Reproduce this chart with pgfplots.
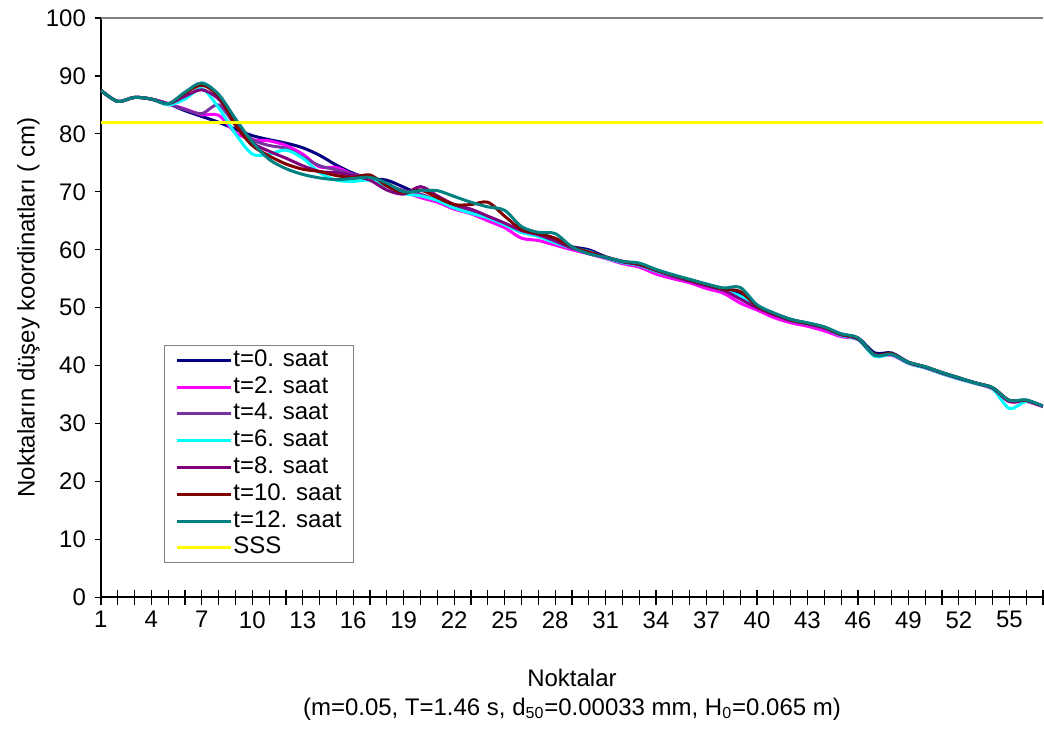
\documentclass[border=0pt]{standalone}
\usepackage{pgfplots}
\usepackage{pgfplotstable}
\pgfplotsset{compat=1.18}
\usepackage{fontspec}
\setmainfont{Liberation Sans}

\definecolor{cnavy}{RGB}{0,0,128}
\definecolor{cpink}{RGB}{255,0,255}
\definecolor{cviol}{RGB}{120,50,160}
\definecolor{ccyan}{RGB}{0,255,255}
\definecolor{cpurp}{RGB}{128,0,128}
\definecolor{cmaroon}{RGB}{128,0,0}
\definecolor{cteal}{RGB}{0,128,128}
\definecolor{cyel}{RGB}{255,255,0}

% dusey koordinatlar (cm), noktalar 1..57
\pgfplotstableread{
x  t0   t2   t4   t6   t8   t10  t12
1  87.5 87.5 87.5 87.5 87.5 87.5 87.5
2  85.6 85.6 85.6 85.6 85.6 85.6 85.6
3  86.3 86.3 86.3 86.3 86.3 86.3 86.3
4  86.0 86.0 86.0 86.0 86.0 86.0 86.0
5  85.2 85.2 85.2 85.0 85.2 85.2 85.2
6  84.0 84.3 84.2 86.0 86.5 87.0 87.2
7  83.0 83.3 83.5 87.8 87.6 88.4 88.8
8  82.0 83.2 85.0 84.5 86.0 86.5 86.8
9  80.8 80.2 81.5 80.0 82.0 81.5 82.6
10 79.7 79.0 79.0 76.5 78.5 78.0 78.6
11 79.0 78.8 78.0 76.5 77.0 76.2 75.6
12 78.4 78.0 77.5 77.2 75.8 74.8 74.0
13 77.6 76.5 76.0 75.8 74.5 73.9 73.0
14 76.3 74.3 74.5 73.3 73.5 73.5 72.4
15 74.6 74.2 73.8 72.0 73.3 72.8 72.1
16 73.2 73.0 73.0 71.8 72.8 72.5 72.3
17 72.3 72.5 72.3 72.0 72.0 72.9 72.5
18 72.0 71.0 71.2 71.0 70.3 71.0 71.5
19 70.8 70.0 70.2 69.7 69.6 69.8 70.0
20 69.5 69.0 69.6 69.3 70.9 70.3 70.2
21 68.5 68.2 68.5 68.5 69.3 69.0 70.2
22 67.5 67.0 67.5 67.2 67.8 67.8 69.2
23 66.5 66.2 66.5 66.3 67.0 67.8 68.2
24 65.5 65.0 65.5 65.5 65.8 68.2 67.4
25 64.3 63.8 64.5 64.3 64.6 65.8 66.8
26 63.3 62.0 63.0 63.0 63.3 63.5 64.0
27 62.5 61.6 62.5 62.3 62.6 62.8 63.0
28 61.3 60.8 61.5 61.2 61.5 62.0 62.8
29 60.5 60.0 60.3 60.3 60.3 60.5 60.5
30 60.0 59.3 59.6 59.7 59.6 59.6 59.3
31 58.8 58.5 58.6 58.6 58.7 58.7 58.7
32 58.0 57.6 57.8 57.8 57.9 58.0 58.0
33 57.5 57.0 57.3 57.3 57.4 57.5 57.7
34 56.5 55.8 56.3 56.3 56.4 56.5 56.6
35 55.6 55.0 55.4 55.5 55.5 55.6 55.7
36 54.8 54.3 54.6 54.7 54.6 54.8 54.9
37 54.0 53.3 53.8 53.9 53.8 54.0 54.1
38 53.3 52.5 53.0 53.0 53.0 53.2 53.4
39 52.3 50.8 52.0 52.0 51.5 52.8 53.5
40 50.3 49.6 50.2 50.2 50.0 50.3 50.5
41 49.0 48.3 48.8 48.9 48.8 49.0 49.1
42 48.0 47.4 47.8 47.8 47.8 47.9 48.0
43 47.3 46.8 47.2 47.2 47.2 47.3 47.4
44 46.6 46.0 46.5 46.5 46.5 46.6 46.7
45 45.4 45.0 45.3 45.2 45.3 45.4 45.5
46 44.8 44.5 44.6 44.5 44.6 44.7 44.8
47 42.2 41.8 41.8 41.6 41.8 41.9 41.8
48 42.2 41.8 42.0 41.9 42.0 42.1 42.0
49 40.6 40.4 40.5 40.4 40.5 40.6 40.6
50 39.8 39.6 39.7 39.6 39.7 39.8 39.8
51 38.8 38.6 38.7 38.6 38.7 38.8 38.8
52 37.9 37.7 37.8 37.7 37.8 37.9 37.9
53 37.0 36.9 37.0 36.9 37.0 37.0 37.0
54 36.2 36.0 36.1 36.0 36.1 36.2 36.2
55 34.0 33.8 34.0 32.6 33.8 34.0 34.0
56 34.0 33.8 33.9 33.8 34.0 34.0 34.1
57 33.0 32.9 33.0 33.0 33.0 33.0 33.0
}\profil

\begin{document}
\begin{tikzpicture}
\begin{axis}[
    at={(0,0)}, anchor=south west,
    width=471.5pt, height=290pt, scale only axis,
    xmin=1, xmax=57, ymin=0, ymax=100,
    axis x line*=bottom, axis y line*=left,
    axis line style={line width=1pt, black},
    xtick={1,4,...,55}, minor xtick={1,...,57},
    ytick={0,10,...,100},
    xtick align=center, ytick align=outside,
    major tick length=3pt, minor tick length=7.5pt,
    xtick style={black, line width=0.6pt},
    minor tick style={black, line width=0.6pt},
    ytick style={black, line width=0.6pt},
    /pgf/number format/assume math mode=true,
    ticklabel style={font=\fontsize{12}{14}\selectfont},
    yticklabel style={xshift=-1pt},
    xticklabel style={yshift=-2pt},
    ylabel={Noktaların düşey koordinatları ( cm)},
    ylabel style={font=\fontsize{12}{14}\selectfont, at={(axis description cs:-0.077,0.5)}, anchor=center},
    xlabel={Noktalar\\[0.5pt](m=0.05, T=1.46 s, d\textsubscript{50}=0.00033 mm, H\textsubscript{0}=0.065 m)},
    xlabel style={font=\fontsize{12}{14}\selectfont, align=center, at={(axis description cs:0.5,0)}, anchor=center, yshift=-48.5pt},
    legend style={at={(0.0668,0.436)}, anchor=north west, draw=gray, line width=0.6pt,
        font=\fontsize{12}{14}\selectfont, row sep=0.4pt, inner xsep=5.5pt, inner ysep=1pt,
        nodes={inner sep=0.5pt, text height=9pt, text depth=3pt}},
    legend cell align=left,
    legend image code/.code={\draw[#1] (0pt,0pt) -- (27pt,0pt);},
    every axis plot/.append style={line width=1.5pt, smooth, no markers},
]
\addplot[cnavy] table[x=x, y=t0] {\profil};
\addlegendentry{t=0. saat}
\addplot[cpink] table[x=x, y=t2] {\profil};
\addlegendentry{t=2. saat}
\addplot[cviol] table[x=x, y=t4] {\profil};
\addlegendentry{t=4. saat}
\addplot[ccyan] table[x=x, y=t6] {\profil};
\addlegendentry{t=6. saat}
\addplot[cpurp] table[x=x, y=t8] {\profil};
\addlegendentry{t=8. saat}
\addplot[cmaroon] table[x=x, y=t10] {\profil};
\addlegendentry{t=10. saat}
\addplot[cteal] table[x=x, y=t12] {\profil};
\addlegendentry{t=12. saat}
\addplot[cyel] coordinates {(1,82) (57,82)};
\addlegendentry{SSS}
\draw[gray, line width=1pt] (axis cs:1,100) -- (axis cs:57,100);
\end{axis}
\path (-50.5pt,-66.5pt) rectangle (471.5pt,299pt);
\end{tikzpicture}
\end{document}
